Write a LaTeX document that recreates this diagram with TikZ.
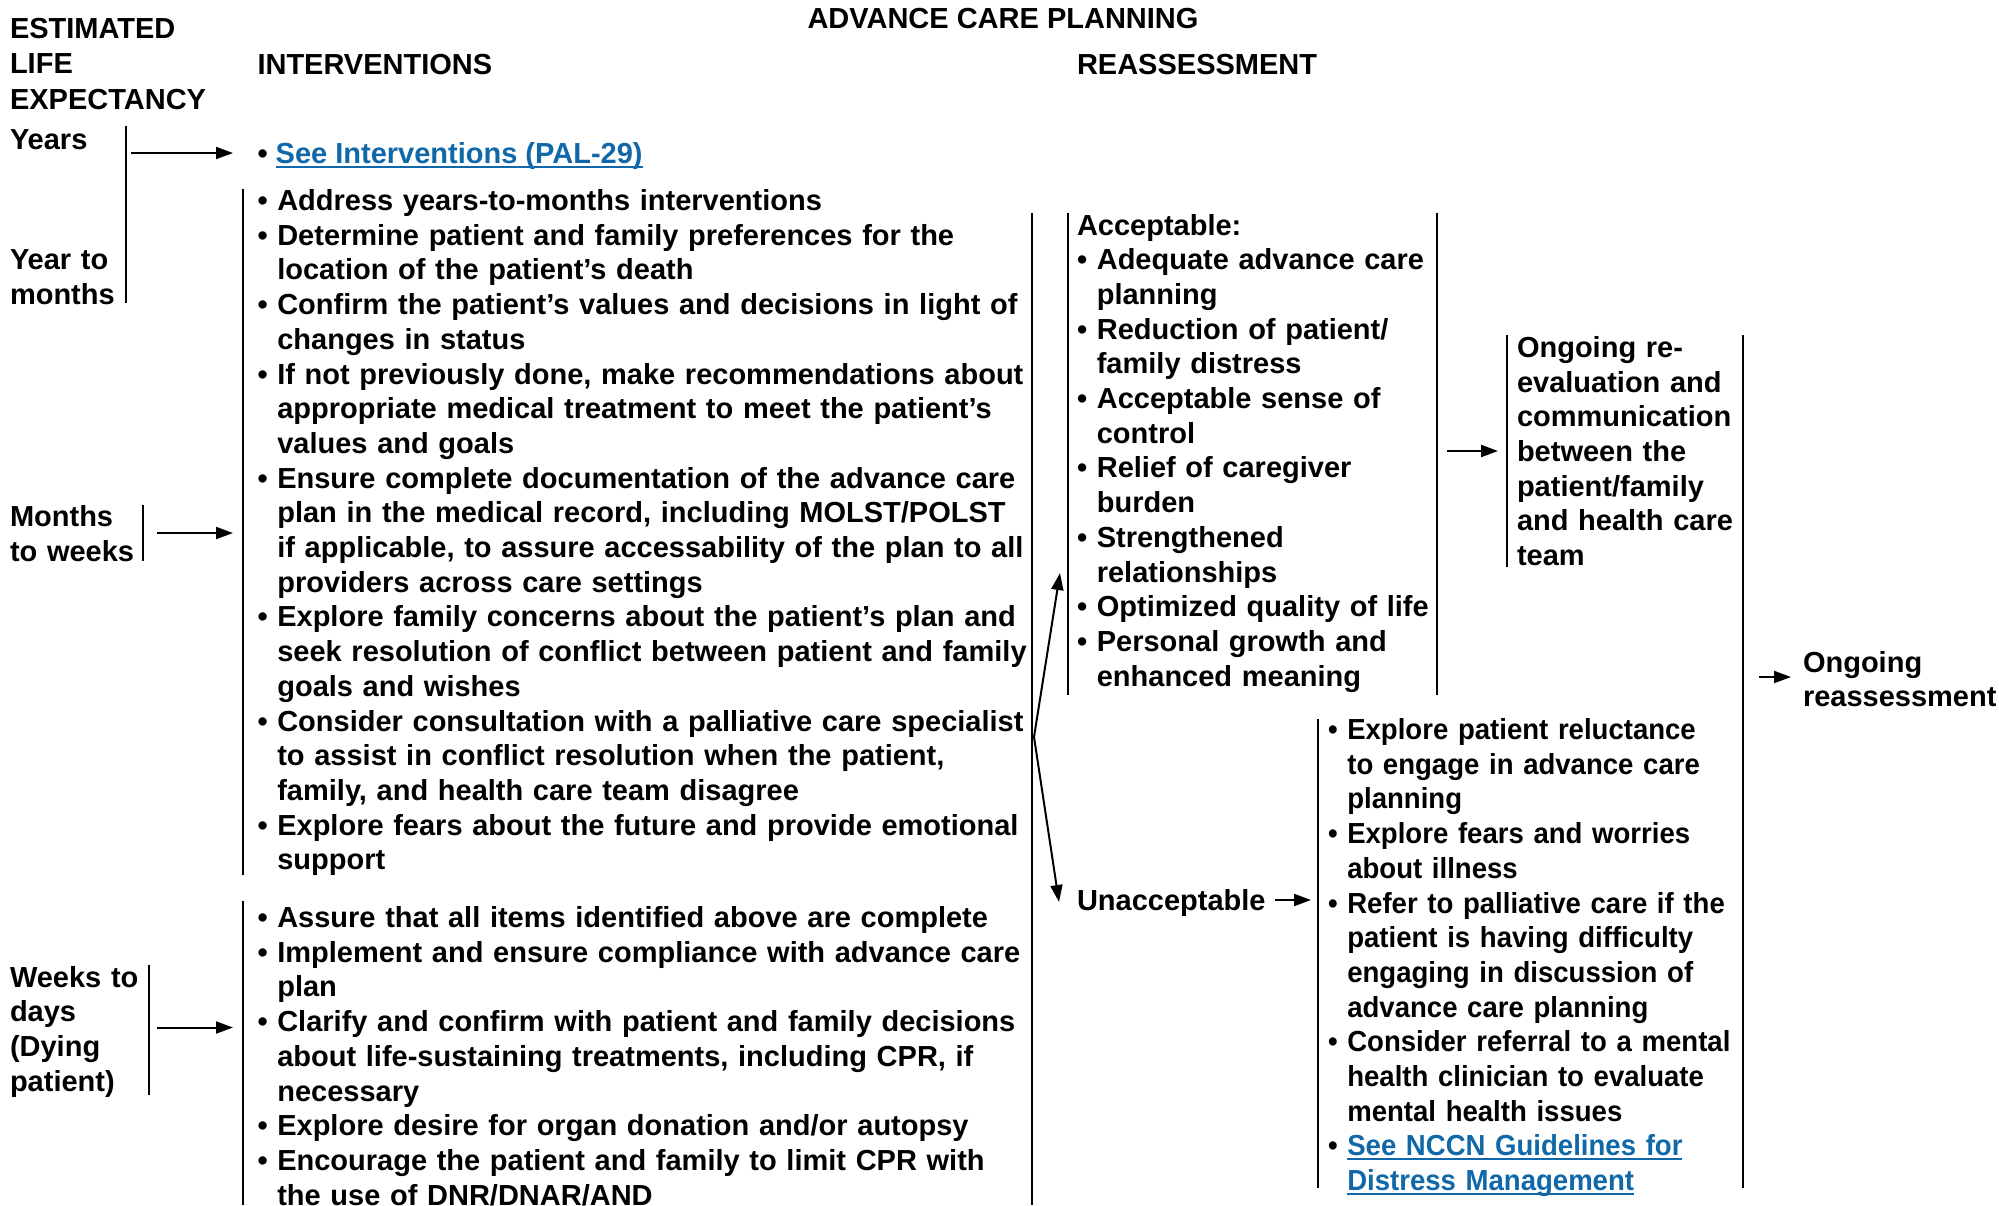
\documentclass[tikz,border=0pt]{standalone}
\usepackage{fontspec}
\setmainfont{Liberation Sans}
\newfontfamily\narrowsans{Liberation Sans}[FakeStretch=0.95]
\usetikzlibrary{arrows.meta}
\definecolor{linkblue}{RGB}{16,104,168}
\newcommand\ind{\hphantom{\textbullet\ }}
\newcommand\bu{\textbullet\ }
\newcommand\lnk[1]{{\color{linkblue}\setbox0\hbox{#1}\rlap{\rule[-4pt]{\wd0}{2pt}}\box0}}
\begin{document}
\begin{tikzpicture}[x=1pt,y=-1pt,
  every node/.style={inner sep=0pt,outer sep=0pt,font=\fontsize{29}{34.7}\selectfont\bfseries},
  txt/.style={anchor=base west,align=left,text width=#1},
  bar/.style={line width=2pt},
  arr/.style={line width=2pt,-{Triangle[length=17pt,width=12pt]}}]
\useasboundingbox (0,0) rectangle (1999,1205);

% headers
\node[anchor=base] (title) at (1003,28) {ADVANCE CARE PLANNING};
\node[txt=300pt,font=\fontsize{29}{35.7}\selectfont\bfseries] (ele) at (10,38) {ESTIMATED\\LIFE\\EXPECTANCY};
\node[anchor=base west] (hint) at (257.5,74) {INTERVENTIONS};
\node[anchor=base west] (hre) at (1077,74) {REASSESSMENT};

% life expectancy labels
\node[anchor=base west] (years) at (10,149.5) {Years};
\node[txt=150pt] (ytm) at (10,269.5) {Year to\\months};
\node[txt=150pt] (mtw) at (10,526.5) {Months\\to weeks};
\node[txt=150pt] (wtd) at (10,987) {Weeks to\\days\\(Dying\\patient)};

% interventions
\node[anchor=base west] (see) at (257.5,163.5) {\bu\lnk{See Interventions (PAL-29)}};
\node[txt=820pt] (int1) at (257.5,210.5) {\bu Address years-to-months interventions\\
\bu Determine patient and family preferences for the\\
\ind location of the patient’s death\\
\bu Confirm the patient’s values and decisions in light of\\
\ind changes in status\\
\bu If not previously done, make recommendations about\\
\ind appropriate medical treatment to meet the patient’s\\
\ind values and goals\\
\bu Ensure complete documentation of the advance care\\
\ind plan in the medical record, including MOLST/POLST\\
\ind if applicable, to assure accessability of the plan to all\\
\ind providers across care settings\\
\bu Explore family concerns about the patient’s plan and\\
\ind seek resolution of conflict between patient and family\\
\ind goals and wishes\\
\bu Consider consultation with a palliative care specialist\\
\ind to assist in conflict resolution when the patient,\\
\ind family, and health care team disagree\\
\bu Explore fears about the future and provide emotional\\
\ind support};
\node[txt=820pt] (int2) at (257.5,927.5) {\bu Assure that all items identified above are complete\\
\bu Implement and ensure compliance with advance care\\
\ind plan\\
\bu Clarify and confirm with patient and family decisions\\
\ind about life-sustaining treatments, including CPR, if\\
\ind necessary\\
\bu Explore desire for organ donation and/or autopsy\\
\bu Encourage the patient and family to limit CPR with\\
\ind the use of DNR/DNAR/AND};

% reassessment
\node[txt=380pt] (acc) at (1077,235) {Acceptable:\\
\bu Adequate advance care\\
\ind planning\\
\bu Reduction of patient/\\
\ind family distress\\
\bu Acceptable sense of\\
\ind control\\
\bu Relief of caregiver\\
\ind burden\\
\bu Strengthened\\
\ind relationships\\
\bu Optimized quality of life\\
\bu Personal growth and\\
\ind enhanced meaning};
\node[txt=240pt] (ong) at (1517,357.3) {Ongoing re-\\evaluation and\\communication\\between the\\patient/family\\and health care\\team};
\node[txt=196pt] (ongr) at (1803,672) {Ongoing\\reassessment};
\node[anchor=base west] (unacc) at (1077,910.5) {Unacceptable};
\node[txt=440pt,font=\narrowsans\fontsize{29}{34.7}\selectfont\bfseries] (unl) at (1328,739.5) {\bu Explore patient reluctance\\
\ind to engage in advance care\\
\ind planning\\
\bu Explore fears and worries\\
\ind about illness\\
\bu Refer to palliative care if the\\
\ind patient is having difficulty\\
\ind engaging in discussion of\\
\ind advance care planning\\
\bu Consider referral to a mental\\
\ind health clinician to evaluate\\
\ind mental health issues\\
\bu\lnk{See NCCN Guidelines for}\\
\ind\lnk{Distress Management}};

% bars
\draw[bar] (126,126) -- (126,303);
\draw[bar] (143,505) -- (143,561);
\draw[bar] (149,965) -- (149,1095);
\draw[bar] (242.5,189) -- (242.5,875);
\draw[bar] (242.5,901) -- (242.5,1205);
\draw[bar] (1032,213) -- (1032,1205);
\draw[bar] (1068,213) -- (1068,695);
\draw[bar] (1437,213) -- (1437,695);
\draw[bar] (1507,335) -- (1507,567);
\draw[bar] (1743,335) -- (1743,1188);
\draw[bar] (1318,719) -- (1318,1188);

% arrows
\coordinate (ya) at (131,153);   \coordinate (yb) at (233,153);
\coordinate (ma) at (157,533);   \coordinate (mb) at (233,533);
\coordinate (wa) at (157,1027.5);\coordinate (wb) at (233,1027.5);
\coordinate (sp) at (1034,737);
\coordinate (upt) at (1060,573); \coordinate (dnt) at (1059,902);
\coordinate (aa) at (1447,451);  \coordinate (ab) at (1498,451);
\coordinate (ra) at (1759,677);  \coordinate (rb) at (1791,677);
\coordinate (ua) at (1275,900);  \coordinate (ub) at (1311,900);
\draw[arr] (ya) -- (yb);
\draw[arr] (ma) -- (mb);
\draw[arr] (wa) -- (wb);
\draw[arr] (sp) -- (upt);
\draw[arr] (sp) -- (dnt);
\draw[arr] (aa) -- (ab);
\draw[arr] (ra) -- (rb);
\draw[arr] (ua) -- (ub);
\end{tikzpicture}
\end{document}
